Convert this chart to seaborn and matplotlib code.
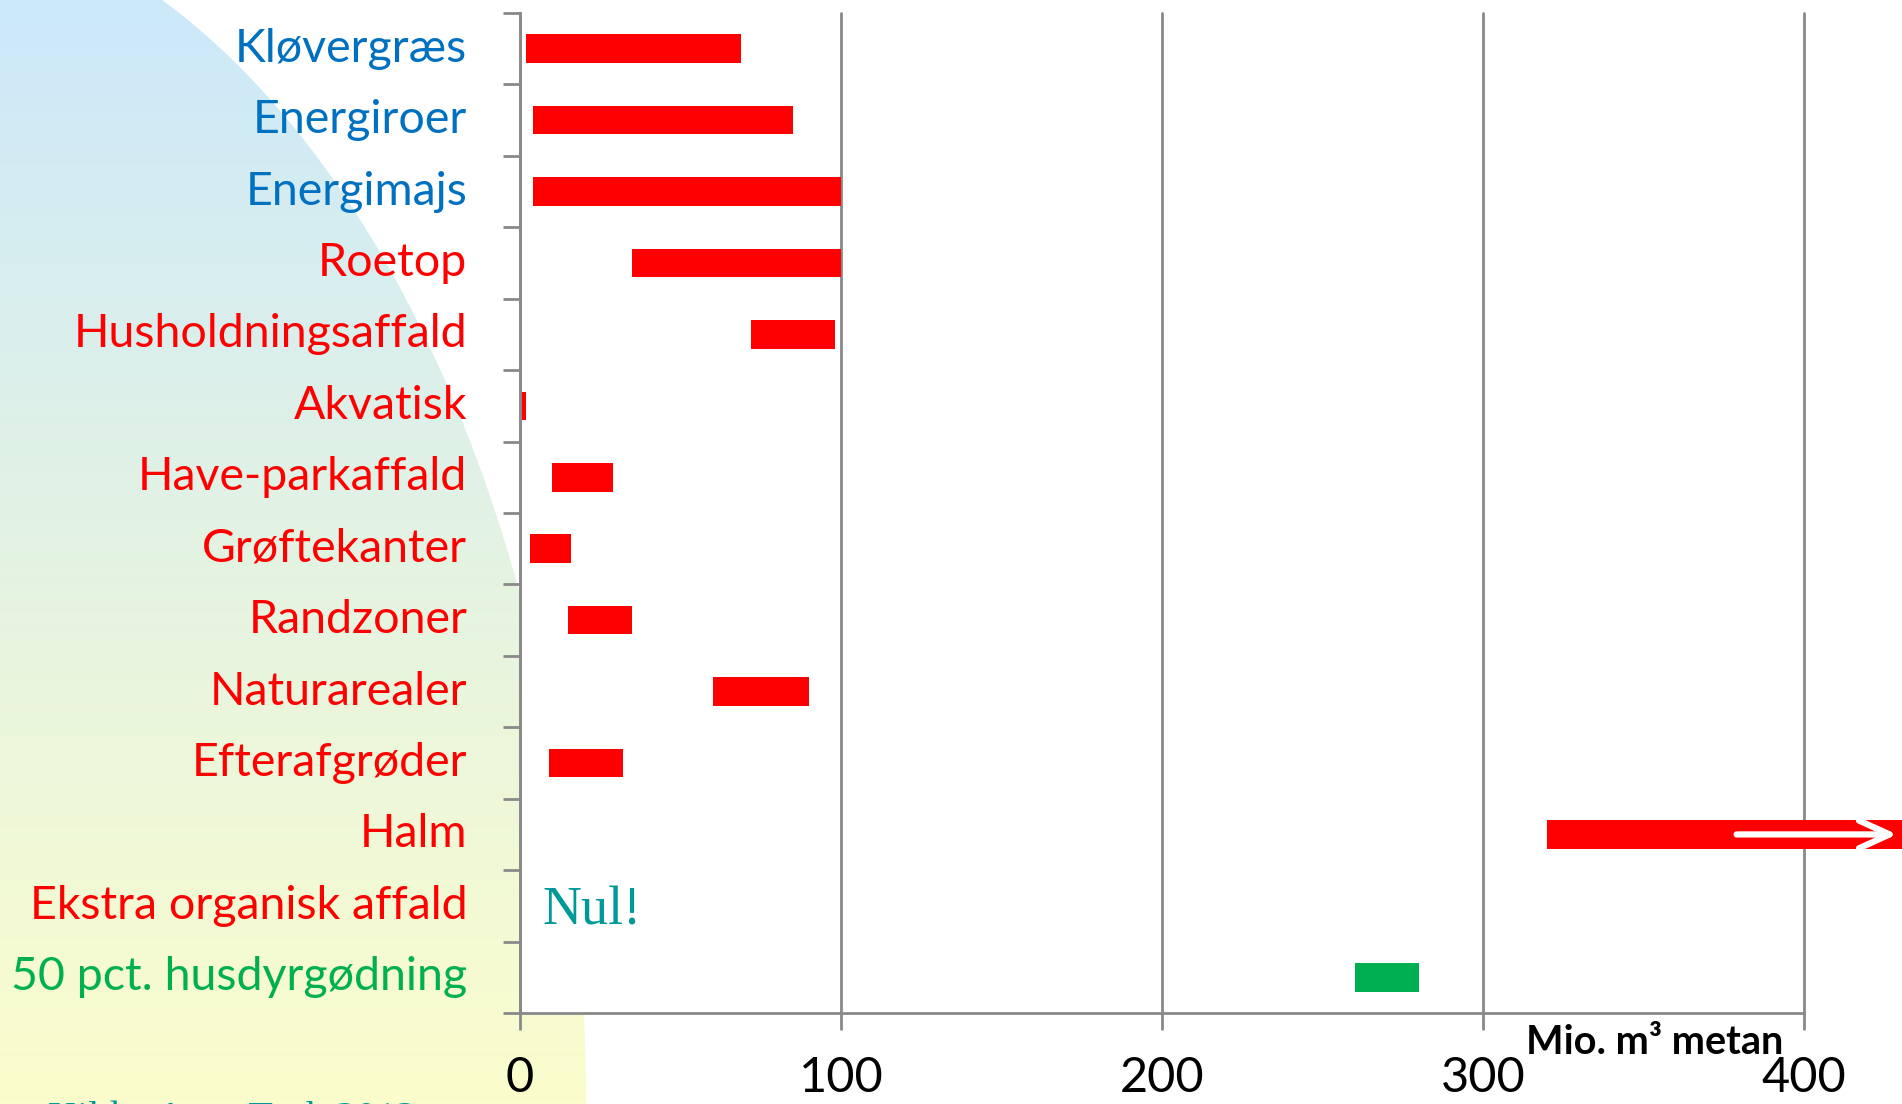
import numpy as np
import pandas as pd
import matplotlib
matplotlib.use("Agg")
import matplotlib.pyplot as plt
from matplotlib.patches import Ellipse
from matplotlib.ticker import FixedLocator, NullFormatter
from matplotlib.transforms import ScaledTranslation
import seaborn as sns

# Biomass sources and their estimated methane potential (mio. m3 methane), low/high
categories = [
    "Kløvergræs", "Energiroer", "Energimajs", "Roetop", "Husholdningsaffald",
    "Akvatisk", "Have-parkaffald", "Grøftekanter", "Randzoner", "Naturarealer",
    "Efterafgrøder", "Halm", "Ekstra organisk affald", "50 pct. husdyrgødning",
]
low = [2, 4, 4, 35, 72, 0.5, 10, 3, 15, 60, 9, 320, 0, 260]
high = [69, 85, 100, 100, 98, 2, 29, 16, 35, 90, 32, 431, 0, 280]
groups = ["afgrøde"] * 3 + ["rest"] * 10 + ["gødning"]
x_ticks = [0, 100, 200, 300, 400]
x_label = "Mio. m³ metan"
zero_note = "Nul!"
source = "Kilde: Agro Tech 2012"

BLUE = "#0070C0"
RED = "#FF0000"
GREEN = "#00B050"
TEAL = "#009999"
GREY = "#898989"
group_color = {"afgrøde": BLUE, "rest": RED, "gødning": GREEN}
bar_color = {"afgrøde": RED, "rest": RED, "gødning": GREEN}

sns.set_theme(style="white")
plt.rcParams["font.family"] = ["Lato", "DejaVu Sans"]

W, H = 1902, 1104
fig = plt.figure(figsize=(W / 100, H / 100), dpi=100)
fig.patch.set_facecolor("white")

# Decorative gradient backdrop on the left
bg = fig.add_axes([0, 0, 1, 1], zorder=0)
bg.set_xlim(0, W)
bg.set_ylim(0, H)
bg.axis("off")
top_c = np.array([204, 233, 250]) / 255
bot_c = np.array([251, 253, 204]) / 255
t = np.linspace(0, 1, 256)[:, None]
grad = (bot_c[None, :] * (1 - t) + top_c[None, :] * t)[:, None, :]
im = bg.imshow(grad, extent=(0, W, 0, H), origin="lower", aspect="auto")
shape = Ellipse((-111, 0), 2 * 697, 2 * 1200, transform=bg.transData)
im.set_clip_path(shape)

# Main chart axes
ax = fig.add_axes([520 / W, 91 / H, 1284 / W, 1000 / H], zorder=2)
ax.set_facecolor("white")

df = pd.DataFrame({"kilde": categories, "fra": low, "til": high})
df["spænd"] = df["til"] - df["fra"]
sns.barplot(data=df, x="spænd", y="kilde", order=categories,
            left=df["fra"].to_numpy(), color=RED, saturation=1,
            width=0.4, errorbar=None, orient="h", ax=ax, linewidth=0)

for patch, grp, name in zip(ax.patches, groups, categories):
    patch.set_facecolor(bar_color[grp])
    patch.set_zorder(2)
    if name == "Halm":
        patch.set_clip_on(False)

ax.set_xlim(0, 400)
ax.set_ylim(len(categories) - 0.5, -0.5)
ax.set_xlabel("")
ax.set_ylabel("")

# x axis
ax.set_xticks(x_ticks)
ax.set_xticklabels([str(v) for v in x_ticks])
ax.tick_params(axis="x", which="major", bottom=True, length=12, width=2,
               color=GREY, pad=19, labelsize=35, labelcolor="black")
ax.grid(axis="x", color=GREY, linewidth=2)
ax.grid(axis="y", visible=False)
ax.set_axisbelow(True)
for gl in ax.get_xgridlines():
    gl.set_clip_on(False)

# y axis: ticks on category boundaries, labels centred on categories
ax.yaxis.set_major_locator(FixedLocator(np.arange(-0.5, len(categories), 1)))
ax.yaxis.set_major_formatter(NullFormatter())
ax.set_yticks(np.arange(len(categories)), labels=categories, minor=True)
ax.tick_params(axis="y", which="major", left=True, length=12, width=2, color=GREY)
ax.tick_params(axis="y", which="minor", left=True, length=0, pad=38, labelsize=33.5)
lift = ScaledTranslation(0, 4 / 100, fig.dpi_scale_trans)
for lbl, grp in zip(ax.get_yticklabels(minor=True), groups):
    lbl.set_color(group_color[grp])
    lbl.set_transform(lbl.get_transform() + lift)

for side in ("top", "right"):
    ax.spines[side].set_visible(False)
for side in ("left", "bottom"):
    ax.spines[side].set_color(GREY)
    ax.spines[side].set_linewidth(2)

# Open-ended arrow on the straw bar
halm_i = categories.index("Halm")
ax.annotate("", xy=(429, halm_i), xytext=(379, halm_i),
            arrowprops=dict(arrowstyle="->,head_length=1.1,head_width=0.5",
                            color="white", lw=4.5, shrinkA=0, shrinkB=0,
                            mutation_scale=20),
            annotation_clip=False, zorder=5)

# No extra organic waste
ax.text(7, categories.index("Ekstra organisk affald") + 0.08, zero_note,
        family=["Liberation Serif", "DejaVu Serif"], fontsize=39,
        color=TEAL, ha="left", va="center")

fig.text(1655 / W, (H - 1043) / H, x_label, ha="center", va="center",
         fontsize=28.5, fontweight="bold", color="black")
fig.text(48 / W, (H - 1101) / H, source, ha="left", va="top",
         family=["Liberation Serif", "DejaVu Serif"], fontsize=29, color=TEAL)

fig.savefig("out.png", dpi=100)
